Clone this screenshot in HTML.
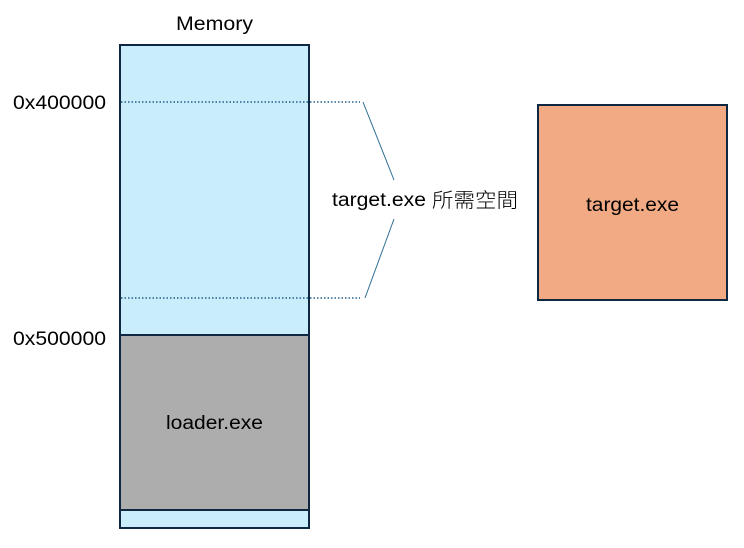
<!DOCTYPE html>
<html><head><meta charset="utf-8"><style>
body{margin:0;width:744px;height:548px;background:#fff;position:relative;overflow:hidden;font-family:"Liberation Sans","Noto Sans CJK TC",sans-serif;}
</style></head><body>
<svg width="744" height="548" style="position:absolute;left:0;top:0">
<rect x="120" y="45" width="189" height="483" fill="#caedfb" stroke="#0e2841" stroke-width="2"/>
<rect x="120" y="335" width="189" height="175" fill="#adadad" stroke="#0e2841" stroke-width="2"/>
<line x1="121" y1="102" x2="360" y2="102" stroke="#1f5f8b" stroke-width="1.5" stroke-dasharray="1.5,2"/>
<line x1="121" y1="298" x2="360" y2="298" stroke="#1f5f8b" stroke-width="1.5" stroke-dasharray="1.5,2"/>
<line x1="363" y1="102" x2="394" y2="180" stroke="#2e6f95" stroke-width="1"/>
<line x1="394" y1="219" x2="365" y2="298" stroke="#2e6f95" stroke-width="1"/>
<rect x="538" y="105" width="189" height="195" fill="#f1aa83" stroke="#0e2841" stroke-width="2"/>
<g font-family="Liberation Sans, Noto Sans CJK TC, sans-serif" font-size="19" fill="#000">
<text x="176" y="30" textLength="77" lengthAdjust="spacingAndGlyphs">Memory</text>
<text x="13" y="109" textLength="93" lengthAdjust="spacingAndGlyphs">0x400000</text>
<text x="13" y="345" textLength="93" lengthAdjust="spacingAndGlyphs">0x500000</text>
<text x="166" y="429" textLength="97" lengthAdjust="spacingAndGlyphs">loader.exe</text>
<text x="586" y="211" textLength="93" lengthAdjust="spacingAndGlyphs">target.exe</text>
<text x="332" y="206" textLength="94" lengthAdjust="spacingAndGlyphs">target.exe</text>
<text x="432" y="207" font-size="20" font-weight="300" textLength="86" lengthAdjust="spacingAndGlyphs">所需空間</text>
</g>
</svg>
</body></html>
